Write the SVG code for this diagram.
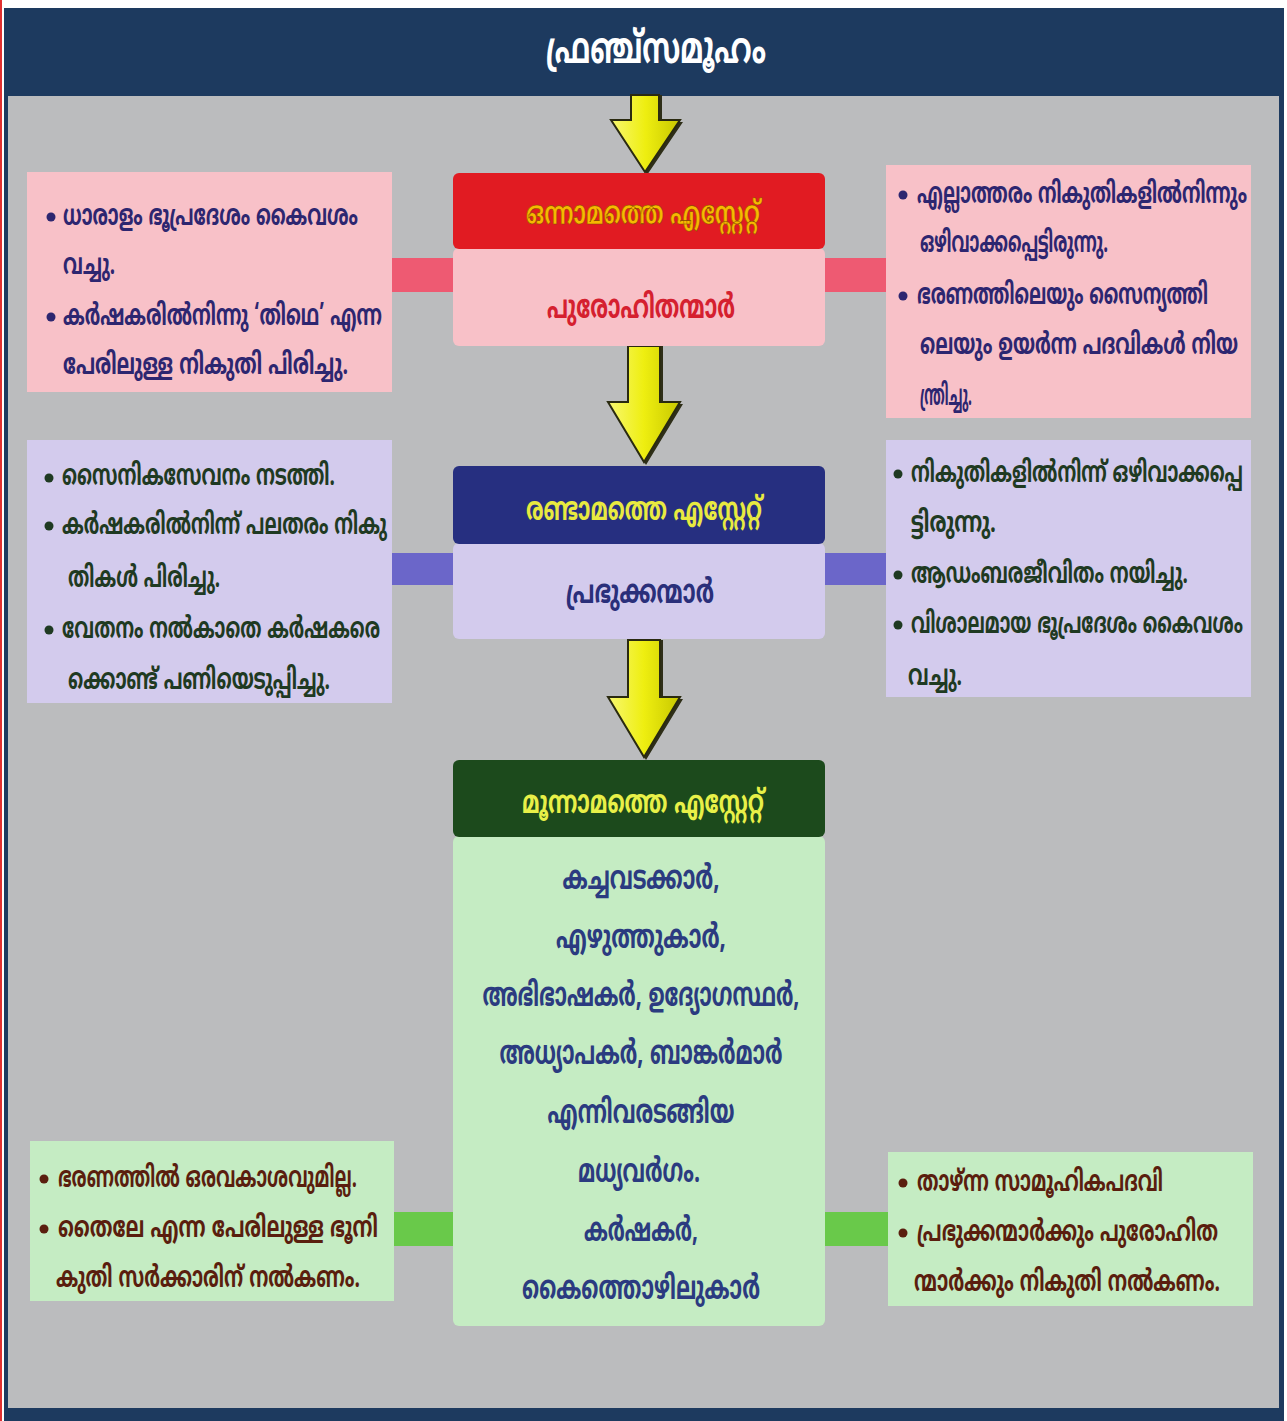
<svg xmlns="http://www.w3.org/2000/svg" width="1287" height="1421" viewBox="0 0 1287 1421">
<defs>
<style>
text{font-family:"Noto Sans Malayalam","Noto Sans","DejaVu Sans",sans-serif;font-weight:bold}
.side{font-size:29px}
.pk{fill:#2d2670}
.lv{fill:#1f3a22}
.gr{fill:#5a1e0e}
.ctr{font-size:33px;text-anchor:middle}
.hd{font-size:32px;text-anchor:middle}
.arrow{fill:url(#yg);stroke:#2a2a10;stroke-width:2;stroke-linejoin:miter}
.ashadow{fill:#2e2e18}
</style>
<linearGradient id="yg" x1="0" y1="0" x2="1" y2="0">
<stop offset="0" stop-color="#f8f870"/>
<stop offset="0.5" stop-color="#eeee10"/>
<stop offset="1" stop-color="#c8c800"/>
</linearGradient>
</defs>
<rect width="1287" height="1421" fill="#ffffff"/>
<rect x="0" y="0" width="2" height="1421" fill="#e03030"/>
<rect x="4" y="8" width="1280" height="1413" fill="#1d3a5f"/>
<rect x="8" y="96" width="1271" height="1312" fill="#bbbcbe"/>

<g id="title">
<text x="656" y="63" font-size="44" fill="#ffffff" text-anchor="middle" textLength="220" lengthAdjust="spacingAndGlyphs">ഫ്രഞ്ച്സമൂഹം</text>
</g>

<g id="connectors">
<rect x="392" y="258" width="62" height="34" fill="#ee5a72"/>
<rect x="824" y="258" width="63" height="34" fill="#ee5a72"/>
<rect x="392" y="553" width="62" height="32" fill="#6b66c9"/>
<rect x="824" y="553" width="63" height="32" fill="#6b66c9"/>
<rect x="392" y="1212" width="62" height="34" fill="#69c94a"/>
<rect x="824" y="1212" width="65" height="34" fill="#69c94a"/>
<path class="ashadow" d="M634 95 L662 95 L662 122 L683 122 L647 175 L614 122 L634 122 Z"/>
<path class="arrow" d="M631 95 L659 95 L659 120 L680 120 L645 172 L611 120 L631 120 Z"/>
<path class="ashadow" d="M631 346 L663 346 L663 404 L683 404 L646 465 L611 404 L631 404 Z"/>
<path class="arrow" d="M628 346 L660 346 L660 402 L680 402 L644 462 L608 402 L628 402 Z"/>
<path class="ashadow" d="M631 640 L663 640 L663 699 L683 699 L646 760 L611 699 L631 699 Z"/>
<path class="arrow" d="M628 640 L660 640 L660 697 L680 697 L644 757 L608 697 L628 697 Z"/>
</g>

<g id="estate1">
<rect x="453" y="248" width="372" height="98" rx="6" fill="#f8c1c8"/>
<rect x="453" y="173" width="372" height="76" rx="6" fill="#e11b22"/>
<text class="hd" x="643" y="224" fill="#f7b900" stroke="#8a4a00" stroke-width="0.6" textLength="234" lengthAdjust="spacingAndGlyphs">ഒന്നാമത്തെ എസ്റ്റേറ്റ്</text>
<text class="ctr" x="641" y="318" fill="#d5202f" textLength="188" lengthAdjust="spacingAndGlyphs">പുരോഹിതന്മാർ</text>
</g>

<g id="estate2">
<rect x="453" y="543" width="372" height="96" rx="6" fill="#d3cbed"/>
<rect x="453" y="466" width="372" height="78" rx="6" fill="#262f80"/>
<text class="hd" x="644" y="520" fill="#e8ea40" textLength="236" lengthAdjust="spacingAndGlyphs">രണ്ടാമത്തെ എസ്റ്റേറ്റ്</text>
<text class="ctr" x="640" y="603" fill="#2a2f7a" textLength="148" lengthAdjust="spacingAndGlyphs">പ്രഭുക്കന്മാർ</text>
</g>

<g id="estate3">
<rect x="453" y="836" width="372" height="490" rx="6" fill="#c5ecc3"/>
<rect x="453" y="760" width="372" height="77" rx="6" fill="#1c4a1c"/>
<text class="hd" x="643" y="813" fill="#e8f048" textLength="242" lengthAdjust="spacingAndGlyphs">മൂന്നാമത്തെ എസ്റ്റേറ്റ്</text>
<g fill="#2b3b80">
<text class="ctr" x="641" y="889" textLength="157" lengthAdjust="spacingAndGlyphs">കച്ചവടക്കാർ,</text>
<text class="ctr" x="641" y="948" textLength="170" lengthAdjust="spacingAndGlyphs">എഴുത്തുകാർ,</text>
<text class="ctr" x="641" y="1006" textLength="317" lengthAdjust="spacingAndGlyphs">അഭിഭാഷകർ, ഉദ്യോഗസ്ഥർ,</text>
<text class="ctr" x="641" y="1064" textLength="283" lengthAdjust="spacingAndGlyphs">അധ്യാപകർ, ബാങ്കർമാർ</text>
<text class="ctr" x="641" y="1123" textLength="187" lengthAdjust="spacingAndGlyphs">എന്നിവരടങ്ങിയ</text>
<text class="ctr" x="639" y="1182" textLength="122" lengthAdjust="spacingAndGlyphs">മധ്യവർഗം.</text>
<text class="ctr" x="641" y="1241" textLength="114" lengthAdjust="spacingAndGlyphs">കർഷകർ,</text>
<text class="ctr" x="641" y="1299" textLength="238" lengthAdjust="spacingAndGlyphs">കൈത്തൊഴിലുകാർ</text>
</g>
</g>

<g id="clergy-left">
<rect x="27" y="172" width="365" height="220" fill="#f8c1c8"/>
<circle cx="51" cy="217" r="4.5" fill="#2d2670"/>
<circle cx="51" cy="317" r="4.5" fill="#2d2670"/>
<text class="side pk" x="63" y="225" textLength="295" lengthAdjust="spacingAndGlyphs">ധാരാളം ഭൂപ്രദേശം കൈവശം</text>
<text class="side pk" x="63" y="274" textLength="52" lengthAdjust="spacingAndGlyphs">വച്ചു.</text>
<text class="side pk" x="63" y="325" textLength="319" lengthAdjust="spacingAndGlyphs">കർഷകരിൽനിന്നു ‘തിഥെ’ എന്ന</text>
<text class="side pk" x="63" y="374" textLength="285" lengthAdjust="spacingAndGlyphs">പേരിലുള്ള  നികുതി പിരിച്ചു.</text>
</g>

<g id="clergy-right">
<rect x="886" y="165" width="365" height="253" fill="#f8c1c8"/>
<circle cx="903" cy="195" r="4.5" fill="#2d2670"/>
<circle cx="903" cy="296" r="4.5" fill="#2d2670"/>
<text class="side pk" x="917" y="203" textLength="330" lengthAdjust="spacingAndGlyphs">എല്ലാത്തരം നികുതികളിൽനിന്നും</text>
<text class="side pk" x="920" y="252" textLength="188" lengthAdjust="spacingAndGlyphs">ഒഴിവാക്കപ്പെട്ടിരുന്നു.</text>
<text class="side pk" x="917" y="304" textLength="291" lengthAdjust="spacingAndGlyphs">ഭരണത്തിലെയും സൈന്യത്തി</text>
<text class="side pk" x="920" y="354" textLength="318" lengthAdjust="spacingAndGlyphs">ലെയും ഉയർന്ന പദവികൾ നിയ</text>
<text class="side pk" x="920" y="405" textLength="52" lengthAdjust="spacingAndGlyphs">ന്ത്രിച്ചു.</text>
</g>

<g id="nobles-left">
<rect x="27" y="440" width="365" height="263" fill="#d3cbed"/>
<circle cx="49" cy="478" r="4.5" fill="#1f3a22"/>
<circle cx="49" cy="526" r="4.5" fill="#1f3a22"/>
<circle cx="49" cy="630" r="4.5" fill="#1f3a22"/>
<text class="side lv" x="62" y="485" textLength="273" lengthAdjust="spacingAndGlyphs">സൈനികസേവനം നടത്തി.</text>
<text class="side lv" x="62" y="534" textLength="325" lengthAdjust="spacingAndGlyphs">കർഷകരിൽനിന്ന് പലതരം നികു</text>
<text class="side lv" x="68" y="587" textLength="152" lengthAdjust="spacingAndGlyphs">തികൾ പിരിച്ചു.</text>
<text class="side lv" x="62" y="638" textLength="318" lengthAdjust="spacingAndGlyphs">വേതനം നൽകാതെ കർഷകരെ</text>
<text class="side lv" x="68" y="689" textLength="262" lengthAdjust="spacingAndGlyphs">ക്കൊണ്ട് പണിയെടുപ്പിച്ചു.</text>
</g>

<g id="nobles-right">
<rect x="886" y="440" width="365" height="257" fill="#d3cbed"/>
<circle cx="898" cy="474" r="4.5" fill="#1f3a22"/>
<circle cx="898" cy="575" r="4.5" fill="#1f3a22"/>
<circle cx="898" cy="625" r="4.5" fill="#1f3a22"/>
<text class="side lv" x="911" y="482" textLength="332" lengthAdjust="spacingAndGlyphs">നികുതികളിൽനിന്ന് ഒഴിവാക്കപ്പെ</text>
<text class="side lv" x="911" y="532" textLength="85" lengthAdjust="spacingAndGlyphs">ട്ടിരുന്നു.</text>
<text class="side lv" x="911" y="583" textLength="277" lengthAdjust="spacingAndGlyphs">ആഡംബരജീവിതം നയിച്ചു.</text>
<text class="side lv" x="911" y="633" textLength="332" lengthAdjust="spacingAndGlyphs">വിശാലമായ ഭൂപ്രദേശം കൈവശം</text>
<text class="side lv" x="908" y="685" textLength="54" lengthAdjust="spacingAndGlyphs">വച്ചു.</text>
</g>

<g id="third-left">
<rect x="30" y="1141" width="364" height="160" fill="#c5ecc3"/>
<circle cx="44" cy="1179" r="4.5" fill="#5a1e0e"/>
<circle cx="44" cy="1229" r="4.5" fill="#5a1e0e"/>
<text class="side gr" x="58" y="1187" textLength="299" lengthAdjust="spacingAndGlyphs">ഭരണത്തിൽ ഒരവകാശവുമില്ല.</text>
<text class="side gr" x="58" y="1237" textLength="320" lengthAdjust="spacingAndGlyphs">തൈലേ എന്ന പേരിലുള്ള  ഭൂനി</text>
<text class="side gr" x="56" y="1287" textLength="304" lengthAdjust="spacingAndGlyphs">കുതി  സർക്കാരിന് നൽകണം.</text>
</g>

<g id="third-right">
<rect x="888" y="1152" width="365" height="154" fill="#c5ecc3"/>
<circle cx="903" cy="1183" r="4.5" fill="#5a1e0e"/>
<circle cx="903" cy="1233" r="4.5" fill="#5a1e0e"/>
<text class="side gr" x="917" y="1191" textLength="246" lengthAdjust="spacingAndGlyphs">താഴ്ന്ന സാമൂഹികപദവി</text>
<text class="side gr" x="917" y="1241" textLength="301" lengthAdjust="spacingAndGlyphs">പ്രഭുക്കന്മാർക്കും പുരോഹിത</text>
<text class="side gr" x="914" y="1291" textLength="306" lengthAdjust="spacingAndGlyphs">ന്മാർക്കും  നികുതി നൽകണം.</text>
</g>
</svg>
